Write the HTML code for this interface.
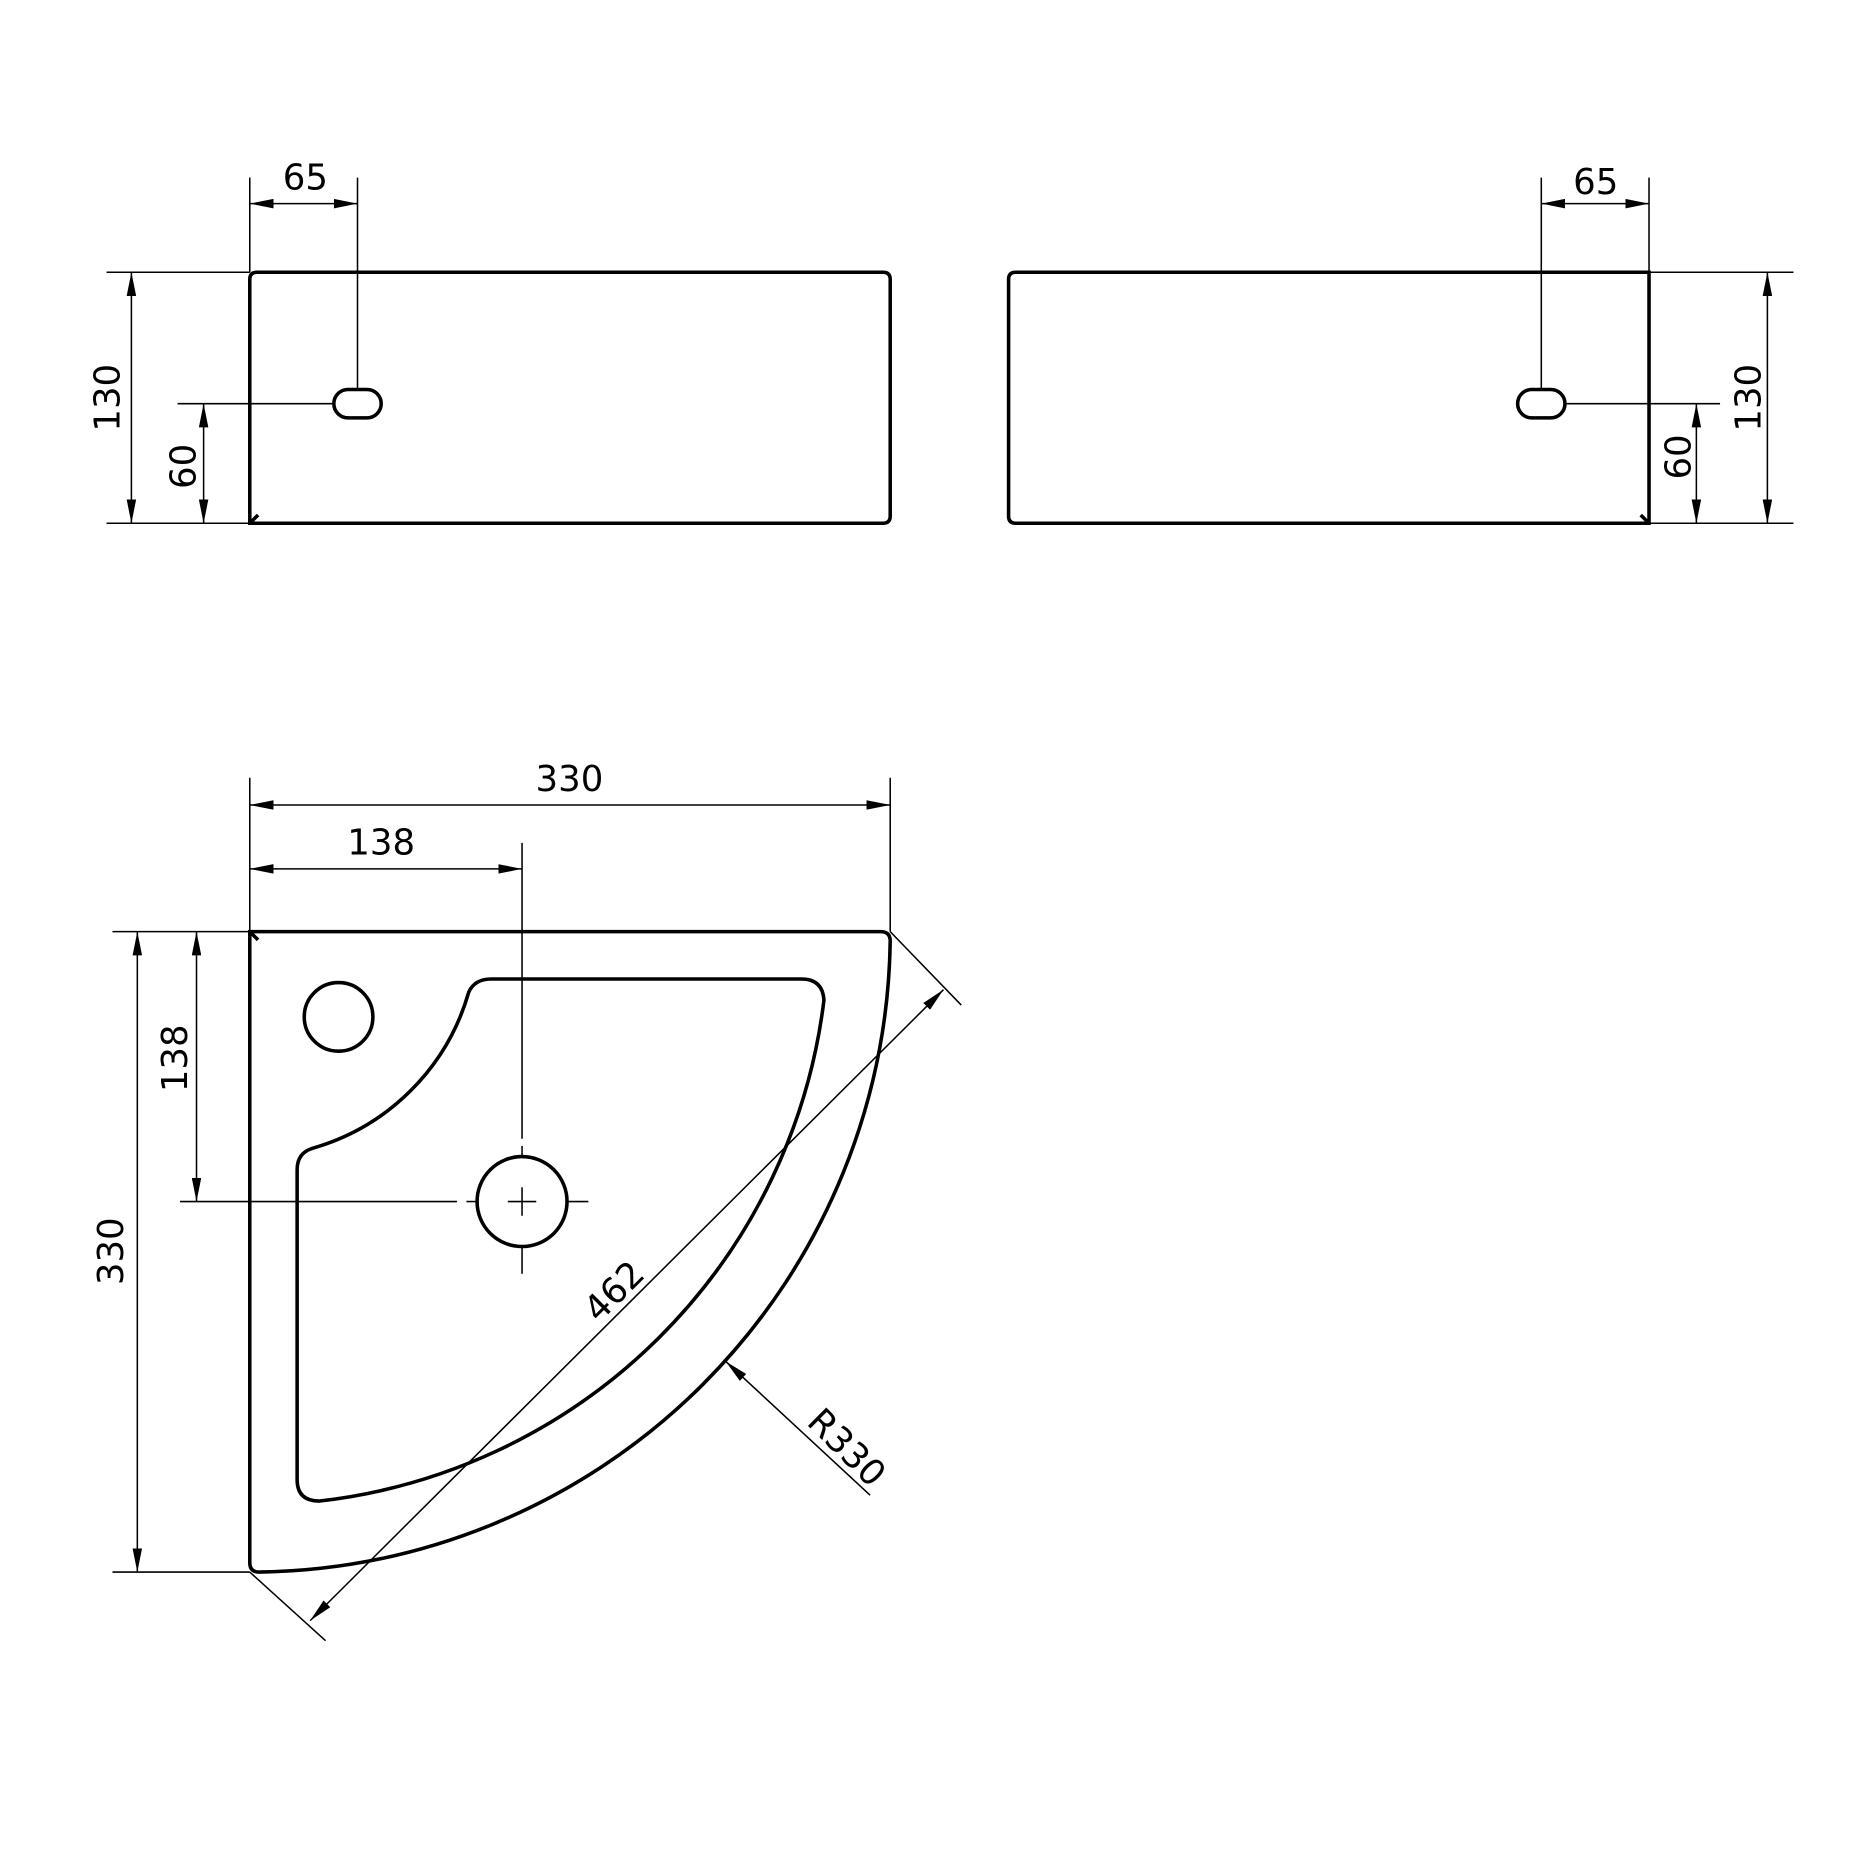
<!DOCTYPE html>
<html><head><meta charset="utf-8"><style>
html,body{margin:0;padding:0;background:#fff;width:1855px;height:1855px;overflow:hidden}
svg{display:block}
text{font-family:"DejaVu Sans","Liberation Sans",sans-serif;font-size:30px;fill:#000}
</style></head><body>
<svg width="1855" height="1855" viewBox="0 0 1567 1567" xmlns="http://www.w3.org/2000/svg">
<defs>
<marker id="a" viewBox="0 0 20 8" refX="20" refY="4" markerWidth="20" markerHeight="8" markerUnits="userSpaceOnUse" orient="auto-start-reverse"><path d="M0,0L20,4L0,8z" fill="#000"/></marker>
</defs>
<g fill="none" stroke="#000">
<path d="M211,442 L211,236 Q211,230 217,230 L746,230 Q752,230 752,236 L752,436 Q752,442 746,442 Z" stroke-width="3"/>
<path d="M211,442 L218,435" stroke-width="3"/>
<rect x="282" y="329" width="40" height="24" rx="12" stroke-width="3"/>
<g stroke-width="1.3">
<line x1="211" y1="150" x2="211" y2="230"/>
<line x1="302" y1="150" x2="302" y2="329"/>
<line x1="211" y1="172" x2="302" y2="172" marker-start="url(#a)" marker-end="url(#a)"/>
<line x1="90" y1="230" x2="211" y2="230"/>
<line x1="90" y1="442" x2="211" y2="442"/>
<line x1="111" y1="230" x2="111" y2="442" marker-start="url(#a)" marker-end="url(#a)"/>
<line x1="150" y1="341" x2="282" y2="341"/>
<line x1="172" y1="341" x2="172" y2="442" marker-start="url(#a)" marker-end="url(#a)"/>
</g>
<path d="M1393,442 L1393,230 L858,230 Q852,230 852,236 L852,436 Q852,442 858,442 Z" stroke-width="3"/>
<path d="M1393,442 L1386,435" stroke-width="3"/>
<rect x="1282" y="329" width="40" height="24" rx="12" stroke-width="3"/>
<g stroke-width="1.3">
<line x1="1393" y1="150" x2="1393" y2="230"/>
<line x1="1302" y1="150" x2="1302" y2="329"/>
<line x1="1302" y1="172" x2="1393" y2="172" marker-start="url(#a)" marker-end="url(#a)"/>
<line x1="1393" y1="230" x2="1515" y2="230"/>
<line x1="1393" y1="442" x2="1515" y2="442"/>
<line x1="1493" y1="230" x2="1493" y2="442" marker-start="url(#a)" marker-end="url(#a)"/>
<line x1="1322" y1="341" x2="1453" y2="341"/>
<line x1="1433" y1="341" x2="1433" y2="442" marker-start="url(#a)" marker-end="url(#a)"/>
</g>
<path d="M211,787 L744,787 Q752,787 752,795 A541,541 0 0 1 219,1328 Q211,1328 211,1320 Z" stroke-width="3"/>
<path d="M211,787 L218,794" stroke-width="3"/>
<path d="M415,827 L677,827 Q695,827 696,845 A485,485 0 0 1 270,1268 Q251,1268 251,1250 L251,988 Q251,974 264,970 A192,192 0 0 0 396,838 Q401,827 415,827 Z" stroke-width="3"/>
<circle cx="286" cy="859" r="29" stroke-width="3"/>
<circle cx="441" cy="1015" r="38" stroke-width="3"/>
<g stroke-width="1.3">
<line x1="441" y1="712" x2="441" y2="962"/>
<line x1="441" y1="968" x2="441" y2="978"/>
<line x1="441" y1="1003" x2="441" y2="1027"/>
<line x1="441" y1="1052" x2="441" y2="1076"/>
<line x1="152" y1="1015" x2="386" y2="1015"/>
<line x1="394" y1="1015" x2="402" y2="1015"/>
<line x1="429" y1="1015" x2="453" y2="1015"/>
<line x1="480" y1="1015" x2="497" y2="1015"/>
<line x1="211" y1="657" x2="211" y2="787"/>
<line x1="752" y1="657" x2="752" y2="787"/>
<line x1="211" y1="680" x2="752" y2="680" marker-start="url(#a)" marker-end="url(#a)"/>
<line x1="211" y1="734" x2="441" y2="734" marker-start="url(#a)" marker-end="url(#a)"/>
<line x1="95" y1="787" x2="211" y2="787"/>
<line x1="95" y1="1328" x2="211" y2="1328"/>
<line x1="116" y1="787" x2="116" y2="1328" marker-start="url(#a)" marker-end="url(#a)"/>
<line x1="166" y1="787" x2="166" y2="1015" marker-start="url(#a)" marker-end="url(#a)"/>
<line x1="211" y1="1328" x2="275" y2="1386"/>
<line x1="752" y1="787" x2="812" y2="849"/>
<line x1="262" y1="1369" x2="797" y2="836" marker-start="url(#a)" marker-end="url(#a)"/>
<line x1="735" y1="1263" x2="613" y2="1150" marker-end="url(#a)"/>
</g>
</g>
<text x="258" y="160" text-anchor="middle">65</text>
<text x="1348" y="164" text-anchor="middle">65</text>
<text transform="translate(101,336) rotate(-90)" text-anchor="middle">130</text>
<text transform="translate(165,394) rotate(-90)" text-anchor="middle">60</text>
<text transform="translate(1487,336) rotate(-90)" text-anchor="middle">130</text>
<text transform="translate(1428,386) rotate(-90)" text-anchor="middle">60</text>
<text x="481" y="668" text-anchor="middle">330</text>
<text x="322" y="722" text-anchor="middle">138</text>
<text transform="translate(104,1057) rotate(-90)" text-anchor="middle">330</text>
<text transform="translate(158,894) rotate(-90)" text-anchor="middle">138</text>
<text transform="translate(526,1098) rotate(-45)" text-anchor="middle">462</text>
<text transform="translate(708,1230) rotate(45)" text-anchor="middle">R330</text>
</svg>
</body></html>
